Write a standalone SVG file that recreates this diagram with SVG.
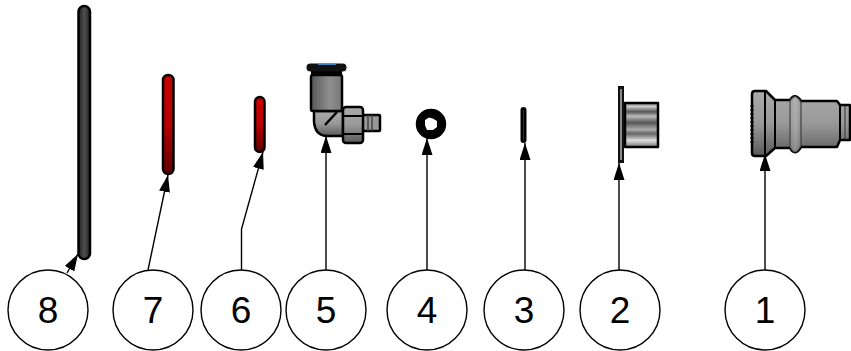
<svg xmlns="http://www.w3.org/2000/svg" width="851" height="351" viewBox="0 0 851 351">
<style>
.c{fill:#fff;stroke:#000;stroke-width:1.4}
.t{font-family:"Liberation Sans",Arial,sans-serif;font-size:37px;text-anchor:middle;fill:#000}
.l{fill:none;stroke:#000;stroke-width:1.4;marker-end:url(#a)}
.o{stroke:#000;stroke-width:2.500;stroke-linejoin:round}
.i{fill:none;stroke:#000;stroke-width:2}
</style>
<defs>
<marker id="a" markerUnits="userSpaceOnUse" markerWidth="20" markerHeight="14" refX="17" refY="5.500" orient="auto"><path d="M0 0L17 5.500L0 11Z" fill="#000"/></marker>
<linearGradient id="dk" x1="0" x2="1" y1="0" y2="0"><stop offset="0" stop-color="#222"/><stop offset=".5" stop-color="#4f4f4f"/><stop offset="1" stop-color="#222"/></linearGradient>
<linearGradient id="rd" x1="0" x2="0" y1="0" y2="1"><stop offset="0" stop-color="#c80000"/><stop offset=".5" stop-color="#b80000"/><stop offset="1" stop-color="#600000"/></linearGradient>
<linearGradient id="gv" x1="0" x2="0" y1="0" y2="1"><stop offset="0" stop-color="#aaa"/><stop offset=".5" stop-color="#999"/><stop offset="1" stop-color="#5a5a5a"/></linearGradient>
<linearGradient id="gh" x1="0" x2="1" y1="0" y2="0"><stop offset="0" stop-color="#555"/><stop offset=".6" stop-color="#8f8f8f"/><stop offset="1" stop-color="#777"/></linearGradient>
<linearGradient id="gb" x1="0" x2="1" y1="0" y2="0"><stop offset="0" stop-color="#999"/><stop offset=".5" stop-color="#bbb"/><stop offset="1" stop-color="#888"/></linearGradient>
<linearGradient id="st" x1="0" x2="0" y1="0" y2="1"><stop offset="0" stop-color="#777"/><stop offset=".08" stop-color="#ccc"/><stop offset=".2" stop-color="#555"/><stop offset=".3" stop-color="#bbb"/><stop offset=".45" stop-color="#555"/><stop offset=".6" stop-color="#aaa"/><stop offset=".7" stop-color="#666"/><stop offset=".85" stop-color="#ddd"/><stop offset="1" stop-color="#777"/></linearGradient>
</defs>
<g id="part8"><rect class="o" x="78.500" y="6" width="11.500" height="253" rx="5.700" fill="url(#dk)"/></g>
<g id="part7"><rect class="o" x="163" y="75" width="10.500" height="99" rx="5" fill="url(#rd)"/></g>
<g id="part6"><rect class="o" x="255" y="97" width="9.500" height="55" rx="4.700" fill="url(#rd)"/></g>
<g id="part5">
<path class="o" d="M314 111V122Q315 135 326 136H343V111Z" fill="url(#gv)"/>
<path d="M325 125L337 112" stroke="#000" stroke-width="2.500"/>
<rect x="311" y="71" width="31" height="5" fill="#000"/>
<rect class="o" x="311" y="75" width="31" height="36" rx="2" fill="url(#gh)"/>
<rect x="306.500" y="63.500" width="40" height="8" rx="4" fill="#111"/>
<path d="M318 64.500H336" stroke="#3a86c0" stroke-width="1"/>
<rect class="o" x="362" y="115" width="18" height="16" rx="1" fill="#999"/>
<path d="M368 115V131M372 115V131" stroke="#444" stroke-width="1.500"/>
<rect class="o" x="343" y="107" width="20" height="36" rx="3" fill="url(#gv)"/>
<path d="M344 116H362M344 134H362" class="i"/>
</g>
<g id="part4">
<circle cx="431" cy="124" r="10.500" fill="none" stroke="#000" stroke-width="9.500"/>
<path d="M425 120L429 117.500L433 119L437 121L437 127L433 130L427 130L425 125Z" fill="#fff"/>
</g>
<g id="part3"><rect x="520.500" y="107" width="6" height="36" rx="3" fill="#000"/><path d="M523.500 110V141" stroke="#8a0000" stroke-width="1"/></g>
<g id="part2">
<rect class="o" x="625" y="103" width="33" height="44" fill="url(#st)"/>
<rect x="618" y="86" width="6" height="77" fill="#111"/>
<path d="M621 89V160" stroke="#ddd" stroke-width="1.200"/>
</g>
<g id="part1">
<path class="o" d="M752 94Q752 91 755 91H766L775 100H790Q795 92 801 101H837L840 105H850V140H840L837 147H801Q795 157 790 148H775L766 156H755Q752 156 752 153Z" fill="url(#gv)"/>
<path d="M790 100Q795 92 801 101V147Q795 157 790 148Z" fill="url(#gb)" opacity=".5"/>
<path class="i" d="M765 91V156M775 100V148M840 105V140"/>
<path d="M790 100V148M801 101V147M845 105V140" stroke="#333" stroke-width="1" fill="none"/>
<path d="M752 105V145" stroke="#000" stroke-width="3" stroke-dasharray="2 2"/>
</g>
<g id="connectors">
<path class="l" d="M67 273L78 254"/>
<path class="l" d="M148 270L168 175"/>
<path class="l" d="M241.500 270V229L263 152"/>
<path class="l" d="M326 270V136"/>
<path class="l" d="M427 270V138"/>
<path class="l" d="M525 270V143"/>
<path class="l" d="M619 270V163"/>
<path class="l" d="M765 270V154"/>
</g>
<g id="n8"><circle class="c" cx="48" cy="310" r="40"/><text class="t" x="48" y="323">8</text></g>
<g id="n7"><circle class="c" cx="153" cy="310" r="40"/><text class="t" x="153" y="323">7</text></g>
<g id="n6"><circle class="c" cx="241" cy="310" r="40"/><text class="t" x="241" y="323">6</text></g>
<g id="n5"><circle class="c" cx="326" cy="310" r="40"/><text class="t" x="326" y="323">5</text></g>
<g id="n4"><circle class="c" cx="427" cy="310" r="40"/><text class="t" x="427" y="323">4</text></g>
<g id="n3"><circle class="c" cx="524" cy="310" r="40"/><text class="t" x="524" y="323">3</text></g>
<g id="n2"><circle class="c" cx="620" cy="310" r="40"/><text class="t" x="620" y="323">2</text></g>
<g id="n1"><circle class="c" cx="765" cy="310" r="40"/><text class="t" x="765" y="323">1</text></g>
</svg>
